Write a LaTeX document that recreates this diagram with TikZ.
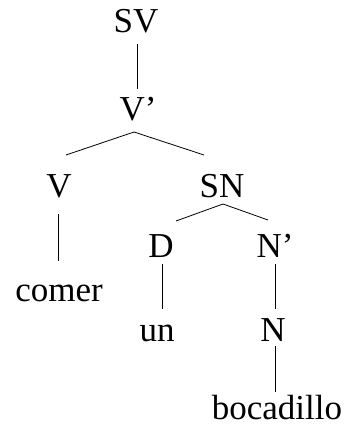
\documentclass[tikz,border=0pt]{standalone}
\usepackage{fontspec}
\setmainfont{Liberation Serif}
\begin{document}
\begin{tikzpicture}[x=1pt,y=-1pt,font=\fontsize{35}{40}\selectfont]
			% --- Styles ---
			\tikzset{cat/.style={anchor=base,inner sep=0pt},
				branch/.style={line width=0.8pt}}
			\useasboundingbox (0,0) rectangle (346,428);
			% --- Categories (x = centre, y = baseline) ---
			\node[cat] (sv) at (136,33) {SV};
			\node[cat] (vbar) at (138,120) {V’};
			\node[cat] (v) at (59,197) {V};
			\node[cat] (sn) at (222,197) {SN};
			\node[cat] (d) at (161,257) {D};
			\node[cat] (nbar) at (275,257) {N’};
			\node[cat] (n) at (273,341) {N};
			% --- Words ---
			\node[cat] (comer) at (59,301) {comer};
			\node[cat] (un) at (157,341) {un};
			\node[cat] (bocadillo) at (277,419) {bocadillo};
			% --- Branches ---
			\draw[branch] ([shift={(1,11)}]sv.base) -- ([shift={(-1,-31)}]vbar.base);
			\draw[branch] ([shift={(7,-42)}]v.base) -- ([shift={(-4,12)}]vbar.base)
				-- ([shift={(-18,-42)}]sn.base);
			\draw[branch] ([shift={(15,-36)}]d.base) -- ([shift={(1,7)}]sn.base)
				-- ([shift={(-7,-37)}]nbar.base);
			% unary branches down to the words
			\draw[branch] ([shift={(-1,17)}]v.base) -- ([shift={(-1,-40)}]comer.base);
			\draw[branch] ([shift={(1,7)}]d.base) -- ([shift={(5,-32)}]un.base);
			\draw[branch] ([shift={(0,7)}]nbar.base) -- ([shift={(2,-32)}]n.base);
			\draw[branch] ([shift={(2,5)}]n.base) -- ([shift={(-2,-27)}]bocadillo.base);
\end{tikzpicture}
\end{document}
